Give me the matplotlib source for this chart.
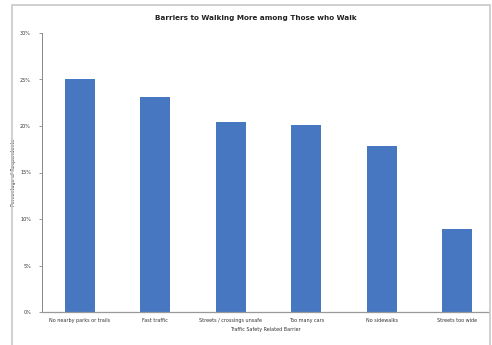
import matplotlib.pyplot as plt
from matplotlib.patches import Rectangle

barriers = [
    "No nearby parks or trails",
    "Fast traffic",
    "Streets / crossings unsafe",
    "Too many cars",
    "No sidewalks",
    "Streets too wide",
]
percent = [25.0, 23.1, 20.4, 20.1, 17.8, 8.9]
yticks = [0, 5, 10, 15, 20, 25, 30]
ytick_labels = [f"{t}%" for t in yticks]

fig = plt.figure(figsize=(4.92, 3.45), dpi=100)

# Light gray frame round the whole chart
frame = Rectangle((12 / 492, -0.05), 478 / 492, 1 - 5 / 345 + 0.05,
                  transform=fig.transFigure, fill=False, ec="#c8c8c8", lw=1.2)
fig.patches.append(frame)

ax = fig.add_axes([42 / 492, 33 / 345, 447 / 492, 279 / 345])
x = range(len(barriers))
ax.bar(x, percent, width=0.4, color="#4677c0", zorder=2)

ax.set_xlim(-0.5, 5.42)
ax.set_ylim(0, 30)
ax.set_yticks(yticks)
ax.set_yticklabels(ytick_labels, fontsize=3.5, color="#333333")
ax.set_xticks(list(x))
ax.set_xticklabels(barriers, fontsize=3.5, color="#333333")
ax.tick_params(axis="x", length=0, pad=4)
ax.tick_params(axis="y", length=2, width=0.6, color="#888888", pad=6)

for side in ["top", "right"]:
    ax.spines[side].set_visible(False)
ax.spines["left"].set_color("#888888")
ax.spines["bottom"].set_color("#999999")
ax.spines["left"].set_linewidth(0.7)
ax.spines["bottom"].set_linewidth(0.9)

ax.set_ylabel("Percentage of Respondents", fontsize=3.5, color="#333333", labelpad=3)
ax.set_xlabel("Traffic Safety Related Barrier", fontsize=3.5, color="#333333", labelpad=3)

fig.text(0.52, 1 - 18 / 345, "Barriers to Walking More among Those who Walk",
         ha="center", va="center", fontsize=5.2, fontweight="bold", color="#222222")

plt.savefig("out.png", dpi=100)
